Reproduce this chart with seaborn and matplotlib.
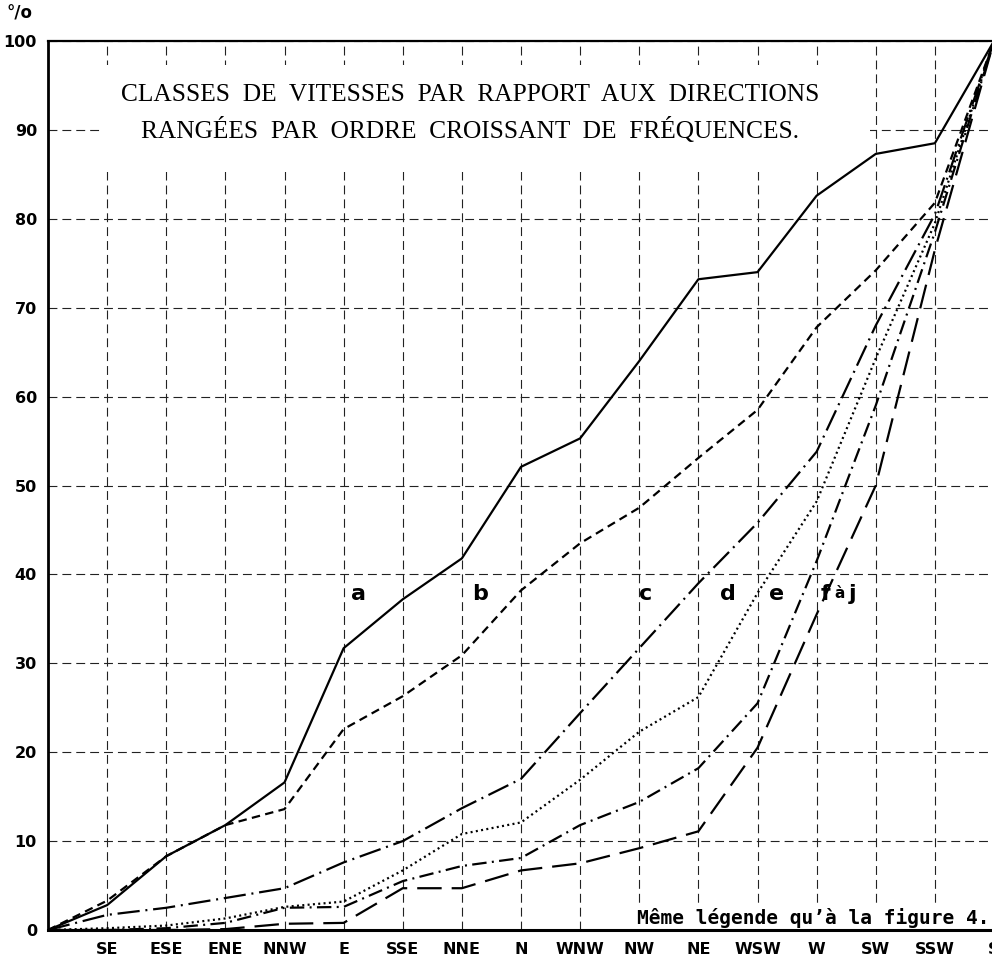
import numpy as np
import pandas as pd
import matplotlib
matplotlib.use("Agg")
import matplotlib.pyplot as plt
import seaborn as sns
from matplotlib.patches import Rectangle

# directions rangees par ordre croissant de frequences (origine sans nom)
directions = ["", "SE", "ESE", "ENE", "NNW", "E", "SSE", "NNE", "N", "WNW",
              "NW", "NE", "WSW", "W", "SW", "SSW", "S"]

# frequences cumulees (%) par classe de vitesses
courbe_a = [0, 2.8, 8.3, 11.8, 16.6, 31.7, 37.2, 41.8, 52.1, 55.3, 64.0, 73.2, 74.0, 82.6, 87.3, 88.5, 100]
courbe_b = [0, 3.3, 8.3, 11.8, 13.6, 22.6, 26.3, 30.9, 38.2, 43.5, 47.5, 53.1, 58.5, 67.8, 74.2, 81.8, 100]
courbe_c = [0, 1.7, 2.5, 3.6, 4.7, 7.6, 10.0, 13.7, 17.0, 24.4, 31.7, 39.0, 45.8, 53.8, 68.0, 80.5, 100]
courbe_d = [0, 0.2, 0.5, 1.3, 2.6, 3.2, 6.7, 10.8, 12.1, 16.9, 22.3, 26.2, 37.9, 48.2, 64.3, 79.5, 100]
courbe_e = [0, 0, 0.2, 0.8, 2.5, 2.6, 5.5, 7.2, 8.1, 11.8, 14.4, 18.2, 25.5, 41.5, 59.0, 78.5, 100]
courbe_f = [0, 0, 0, 0.1, 0.7, 0.8, 4.7, 4.7, 6.7, 7.5, 9.2, 11.1, 20.5, 35.5, 50.0, 76.5, 100]

classes = ["a", "b", "c", "d", "e", "f"]
courbes = [courbe_a, courbe_b, courbe_c, courbe_d, courbe_e, courbe_f]

# etiquettes des courbes : (texte, x, y)
etiquettes = [("a", 5.25, 37.8), ("b", 7.3, 37.8), ("c", 10.1, 37.8),
              ("d", 11.5, 37.8), ("e", 12.33, 37.8)]
etiquettes_fj = [("f", 13.15, 37.8), ("à", 13.38, 37.8), ("j", 13.6, 37.8)]

pos = np.arange(len(directions))
df = pd.DataFrame({
    "x": np.tile(pos, len(classes)),
    "valeur": np.concatenate(courbes),
    "classe": np.repeat(classes, len(directions)),
})

sns.set_style("white")
plt.rcParams["font.family"] = ["DejaVu Sans"]
plt.rcParams["text.color"] = "black"
plt.rcParams["xtick.color"] = "black"
plt.rcParams["ytick.color"] = "black"

fig = plt.figure(figsize=(9.92, 9.61), dpi=100)
ax = fig.add_axes([48 / 992, 31 / 961, 946 / 992, 889 / 961])

tirets = {
    "a": "",
    "b": (3.8, 2.4),
    "c": (10, 2.6, 0.9, 2.6),
    "d": (0.9, 1.5),
    "e": (6.5, 2.4, 0.9, 2.4),
    "f": (11, 4.5),
}
sns.lineplot(data=df, x="x", y="valeur", style="classe", dashes=tirets,
             color="black", linewidth=1.6, legend=False, ax=ax,
             estimator=None, sort=False, zorder=4)

ax.set_xlim(0, 16)
ax.set_ylim(0, 100)
ax.set_xticks(pos)
ax.set_xticklabels(directions)
ax.set_yticks(np.arange(0, 101, 10))
ax.set_xlabel("")
ax.set_ylabel("")
ax.tick_params(axis="both", length=0, labelsize=11.5, labelcolor="black")
ax.tick_params(axis="x", pad=9)
ax.tick_params(axis="y", pad=8)
for lab in ax.get_xticklabels() + ax.get_yticklabels():
    lab.set_fontweight("bold")

ax.grid(True, linestyle=(0, (8, 4.5)), linewidth=0.8, color="#222222", zorder=1)
ax.set_axisbelow(True)

ax.spines["right"].set_visible(False)
ax.spines["left"].set_linewidth(2.0)
ax.spines["bottom"].set_linewidth(2.2)
ax.spines["top"].set_linewidth(1.6)
for s in ["left", "bottom", "top"]:
    ax.spines[s].set_color("black")

# cadre blanc du titre
ax.add_patch(Rectangle((0.055, 0.853), 0.814, 0.12, transform=ax.transAxes,
                       facecolor="white", edgecolor="none", zorder=2))
ax.text(0.446, 0.939, "CLASSES  DE  VITESSES  PAR  RAPPORT  AUX  DIRECTIONS",
        transform=ax.transAxes, ha="center", va="center", fontsize=18.3,
        family="Liberation Serif", zorder=3)
ax.text(0.446, 0.900, "RANGÉES  PAR  ORDRE  CROISSANT  DE  FRÉQUENCES.",
        transform=ax.transAxes, ha="center", va="center", fontsize=18.3,
        family="Liberation Serif", zorder=3)

for txt, x, y in etiquettes:
    ax.text(x, y, txt, ha="center", va="center", fontsize=16,
            fontweight="bold", zorder=5)
for txt, x, y in etiquettes_fj:
    ax.text(x, y, txt, ha="center", va="center",
            fontsize=11 if txt == "à" else 16, fontweight="bold", zorder=5)

# note en bas a droite
ax.add_patch(Rectangle((0.618, 0.0), 0.39, 0.027, transform=ax.transAxes,
                       facecolor="white", edgecolor="none", zorder=2))
ax.text(0.623, 0.007, "Même légende qu’à la figure 4.", transform=ax.transAxes,
        ha="left", va="baseline", fontsize=14, family="DejaVu Sans Mono",
        fontweight="bold", zorder=3)

fig.text(20 / 992, 1 - 13 / 961, "°/o", ha="center", va="center",
         fontsize=12, fontweight="bold")

fig.savefig("out.png", dpi=100, facecolor="white")
